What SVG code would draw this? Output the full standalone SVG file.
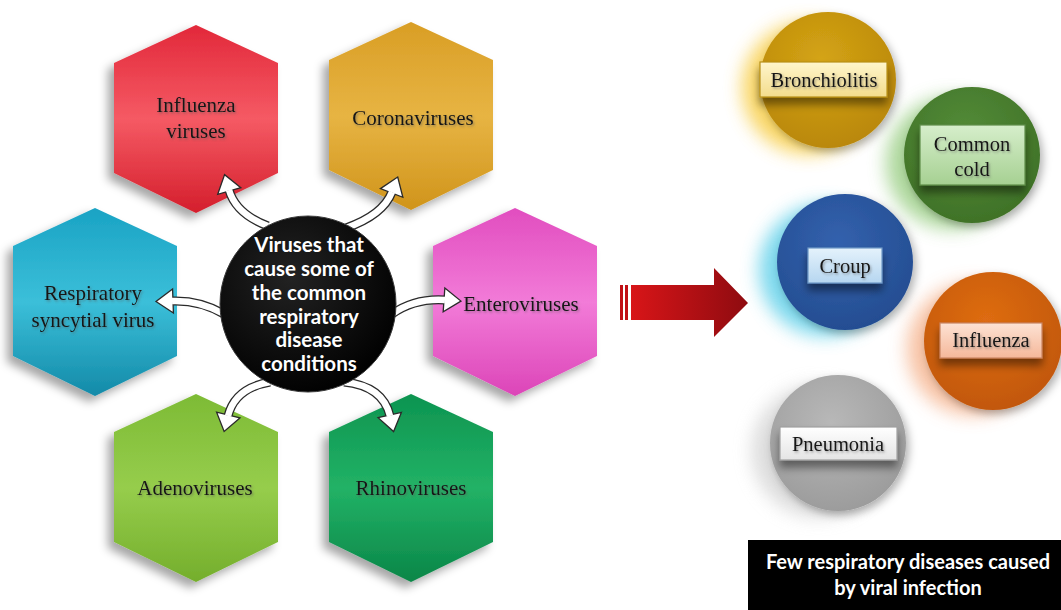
<svg xmlns="http://www.w3.org/2000/svg" width="1061" height="610" viewBox="0 0 1061 610">
  <defs>
    <style>
      .hexlabel { font-family: "Liberation Serif", "Times New Roman", serif; font-size: 21px; fill: #141414; text-anchor: middle; filter: url(#txtShadow); }
      .boxlabel { font-family: "Liberation Serif", "Times New Roman", serif; font-size: 20.5px; fill: #141414; text-anchor: middle; filter: url(#txtShadow); }
      .hubtext { font-family: Lato, "Open Sans", "Liberation Sans", sans-serif; font-weight: bold; font-size: 20.5px; fill: #ffffff; text-anchor: middle; }
      .captext { font-family: Lato, "Open Sans", "Liberation Sans", sans-serif; font-weight: bold; font-size: 20px; fill: #ffffff; text-anchor: middle; }
      .shaft-out { fill: none; stroke: #2a2a2a; stroke-width: 9; }
      .shaft-in { fill: none; stroke: #ffffff; stroke-width: 6.4; }
      .head { fill: #ffffff; stroke: #2a2a2a; stroke-width: 1.3; stroke-linejoin: miter; }
      .tag { stroke-width: 1.2; filter: url(#tagShadow); }
    </style>
    <filter id="hexShadow" x="-30%" y="-20%" width="150%" height="150%">
      <feDropShadow dx="-6" dy="6" stdDeviation="5" flood-color="#000" flood-opacity="0.35"/>
    </filter>
    <filter id="txtShadow" x="-10%" y="-20%" width="120%" height="150%">
      <feDropShadow dx="1.2" dy="1.5" stdDeviation="0.9" flood-color="#555" flood-opacity="0.55"/>
    </filter>
    <filter id="tagShadow" x="-20%" y="-30%" width="140%" height="190%">
      <feDropShadow dx="0" dy="7" stdDeviation="4" flood-color="#000" flood-opacity="0.45"/>
    </filter>
    <filter id="glow" x="-50%" y="-50%" width="200%" height="200%">
      <feGaussianBlur stdDeviation="9"/>
    </filter>
    <filter id="discShadow" x="-30%" y="-30%" width="160%" height="160%">
      <feDropShadow dx="3" dy="4" stdDeviation="4" flood-color="#000" flood-opacity="0.3"/>
    </filter>

    <!-- hexagon fills: lighter band across the middle -->
    <linearGradient id="gRed" x1="0" y1="0" x2="0" y2="1">
      <stop offset="0" stop-color="#e2283a"/><stop offset="0.5" stop-color="#f55a64"/><stop offset="1" stop-color="#d41e2c"/>
    </linearGradient>
    <linearGradient id="gGold" x1="0" y1="0" x2="0" y2="1">
      <stop offset="0" stop-color="#d99e25"/><stop offset="0.5" stop-color="#e7b443"/><stop offset="1" stop-color="#d0941b"/>
    </linearGradient>
    <linearGradient id="gCyan" x1="0" y1="0" x2="0" y2="1">
      <stop offset="0" stop-color="#1aa3c4"/><stop offset="0.5" stop-color="#3bbfd9"/><stop offset="1" stop-color="#138aa8"/>
    </linearGradient>
    <linearGradient id="gPink" x1="0" y1="0" x2="0" y2="1">
      <stop offset="0" stop-color="#e14dbf"/><stop offset="0.5" stop-color="#f27bd8"/><stop offset="1" stop-color="#dc45b8"/>
    </linearGradient>
    <linearGradient id="gLime" x1="0" y1="0" x2="0" y2="1">
      <stop offset="0" stop-color="#7dbb35"/><stop offset="0.5" stop-color="#96cd4c"/><stop offset="1" stop-color="#74ae2c"/>
    </linearGradient>
    <linearGradient id="gGreen" x1="0" y1="0" x2="0" y2="1">
      <stop offset="0" stop-color="#0d9450"/><stop offset="0.5" stop-color="#22b266"/><stop offset="1" stop-color="#0a8648"/>
    </linearGradient>
    <linearGradient id="gArrow" x1="0" y1="0" x2="1" y2="0">
      <stop offset="0" stop-color="#d81518"/><stop offset="1" stop-color="#8e0b10"/>
    </linearGradient>
    <radialGradient id="gHub" cx="0.4" cy="0.35" r="0.7">
      <stop offset="0" stop-color="#222"/><stop offset="1" stop-color="#000"/>
    </radialGradient>

    <!-- disc fills -->
    <radialGradient id="dGold" cx="0.45" cy="0.35" r="0.7">
      <stop offset="0" stop-color="#d4a414"/><stop offset="1" stop-color="#b8860b"/>
    </radialGradient>
    <radialGradient id="dGreen" cx="0.45" cy="0.35" r="0.7">
      <stop offset="0" stop-color="#548c38"/><stop offset="1" stop-color="#3e7026"/>
    </radialGradient>
    <radialGradient id="dBlue" cx="0.45" cy="0.35" r="0.7">
      <stop offset="0" stop-color="#3361ad"/><stop offset="1" stop-color="#234c90"/>
    </radialGradient>
    <radialGradient id="dOrange" cx="0.45" cy="0.35" r="0.7">
      <stop offset="0" stop-color="#de6c12"/><stop offset="1" stop-color="#c05608"/>
    </radialGradient>
    <radialGradient id="dGray" cx="0.45" cy="0.35" r="0.7">
      <stop offset="0" stop-color="#b8b8b8"/><stop offset="1" stop-color="#9a9a9a"/>
    </radialGradient>

    <!-- label plates -->
    <linearGradient id="tYellow" x1="0" y1="0" x2="0" y2="1">
      <stop offset="0" stop-color="#fff6cc"/><stop offset="1" stop-color="#f3dc8c"/>
    </linearGradient>
    <linearGradient id="tGreen" x1="0" y1="0" x2="0" y2="1">
      <stop offset="0" stop-color="#d6eecb"/><stop offset="1" stop-color="#a6d092"/>
    </linearGradient>
    <linearGradient id="tBlue" x1="0" y1="0" x2="0" y2="1">
      <stop offset="0" stop-color="#e4f2fc"/><stop offset="1" stop-color="#b6d6f0"/>
    </linearGradient>
    <linearGradient id="tPeach" x1="0" y1="0" x2="0" y2="1">
      <stop offset="0" stop-color="#fde2d4"/><stop offset="1" stop-color="#f5b89a"/>
    </linearGradient>
    <linearGradient id="tWhite" x1="0" y1="0" x2="0" y2="1">
      <stop offset="0" stop-color="#ffffff"/><stop offset="1" stop-color="#e4e4e4"/>
    </linearGradient>

    <path id="hex" d="M0,-94 L82,-56 L82,54 L0,94 L-82,54 L-82,-56 Z"/>
  </defs>

  <rect width="1061" height="610" fill="#ffffff"/>

  <!-- virus hexagons -->
  <g id="hex-influenza" transform="translate(196,119)">
    <use href="#hex" fill="url(#gRed)" filter="url(#hexShadow)"/>
    <text class="hexlabel" x="0" y="-7">Influenza</text>
    <text class="hexlabel" x="0" y="19">viruses</text>
  </g>
  <g id="hex-corona" transform="translate(411,116)">
    <use href="#hex" fill="url(#gGold)" filter="url(#hexShadow)"/>
    <text class="hexlabel" x="2" y="9">Coronaviruses</text>
  </g>
  <g id="hex-rsv" transform="translate(95,302)">
    <use href="#hex" fill="url(#gCyan)" filter="url(#hexShadow)"/>
    <text class="hexlabel" x="-2" y="-2">Respiratory</text>
    <text class="hexlabel" x="-2" y="25">syncytial virus</text>
  </g>
  <g id="hex-entero" transform="translate(515,302)">
    <use href="#hex" fill="url(#gPink)" filter="url(#hexShadow)"/>
    <text class="hexlabel" x="6" y="9">Enteroviruses</text>
  </g>
  <g id="hex-adeno" transform="translate(196,488)">
    <use href="#hex" fill="url(#gLime)" filter="url(#hexShadow)"/>
    <text class="hexlabel" x="-1" y="7">Adenoviruses</text>
  </g>
  <g id="hex-rhino" transform="translate(411,488)">
    <use href="#hex" fill="url(#gGreen)" filter="url(#hexShadow)"/>
    <text class="hexlabel" x="0" y="7">Rhinoviruses</text>
  </g>

  <!-- curved outline arrows from the hub -->
  <g id="connectors">
    <g>
      <path class="shaft-out" d="M268 226 Q236 214 229 190"/>
      <polygon class="head" transform="translate(229,190) rotate(-106)" points="-1,-12 16,0 -1,12"/>
      <path class="shaft-in" d="M268 226 Q236 214 229 190"/>
    </g>
    <g>
      <path class="shaft-out" d="M346 228 Q383 215 392 192"/>
      <polygon class="head" transform="translate(392,192) rotate(-69)" points="-1,-12 16,0 -1,12"/>
      <path class="shaft-in" d="M346 228 Q383 215 392 192"/>
    </g>
    <g>
      <path class="shaft-out" d="M224 314 Q200 300 172 301"/>
      <polygon class="head" transform="translate(172,301) rotate(178)" points="-1,-12 16,0 -1,12"/>
      <path class="shaft-in" d="M224 314 Q200 300 172 301"/>
    </g>
    <g>
      <path class="shaft-out" d="M392 314 Q415 298 445 300"/>
      <polygon class="head" transform="translate(445,300) rotate(4)" points="-1,-12 16,0 -1,12"/>
      <path class="shaft-in" d="M392 314 Q415 298 445 300"/>
    </g>
    <g>
      <path class="shaft-out" d="M270 382 Q235 388 228 416"/>
      <polygon class="head" transform="translate(228,416) rotate(104)" points="-1,-12 16,0 -1,12"/>
      <path class="shaft-in" d="M270 382 Q235 388 228 416"/>
    </g>
    <g>
      <path class="shaft-out" d="M344 382 Q383 386 390 416"/>
      <polygon class="head" transform="translate(390,416) rotate(77)" points="-1,-12 16,0 -1,12"/>
      <path class="shaft-in" d="M344 382 Q383 386 390 416"/>
    </g>
  </g>

  <!-- hub -->
  <g id="hub">
    <circle cx="308" cy="304" r="88" fill="url(#gHub)" stroke="#3a3a3a" stroke-width="1"/>
    <text class="hubtext" x="309" y="252">Viruses that</text>
    <text class="hubtext" x="309" y="276">cause some of</text>
    <text class="hubtext" x="309" y="300">the common</text>
    <text class="hubtext" x="309" y="324">respiratory</text>
    <text class="hubtext" x="309" y="347">disease</text>
    <text class="hubtext" x="309" y="371">conditions</text>
  </g>

  <!-- big arrow toward the disease list -->
  <g id="big-arrow">
    <rect x="620" y="285" width="3" height="35" fill="#c01016"/>
    <rect x="625" y="285" width="3" height="35" fill="#c01016"/>
    <polygon points="631,285 714,285 714,268 748,303 714,337 714,320 631,320" fill="url(#gArrow)"/>
  </g>

  <!-- disease discs -->
  <g id="disc-bronchiolitis">
    <circle cx="808" cy="88" r="66" fill="#f8cf4c" opacity="0.85" filter="url(#glow)"/>
    <circle cx="828" cy="80" r="68" fill="url(#dGold)" filter="url(#discShadow)"/>
    <rect class="tag" x="760" y="62" width="127" height="35" fill="url(#tYellow)" stroke="#b8901a"/>
    <text class="boxlabel" x="824" y="87">Bronchiolitis</text>
  </g>
  <g id="disc-common-cold">
    <circle cx="952" cy="163" r="66" fill="#9fd08a" opacity="0.85" filter="url(#glow)"/>
    <circle cx="972" cy="155" r="68" fill="url(#dGreen)" filter="url(#discShadow)"/>
    <rect class="tag" x="920" y="125" width="105" height="60" fill="url(#tGreen)" stroke="#5e8d48"/>
    <text class="boxlabel" x="972" y="151">Common</text>
    <text class="boxlabel" x="972" y="176">cold</text>
  </g>
  <g id="disc-croup">
    <circle cx="825" cy="270" r="66" fill="#66d2ea" opacity="0.85" filter="url(#glow)"/>
    <circle cx="845" cy="262" r="68" fill="url(#dBlue)" filter="url(#discShadow)"/>
    <rect class="tag" x="808" y="248" width="74" height="35" fill="url(#tBlue)" stroke="#6e98c6"/>
    <text class="boxlabel" x="845" y="273">Croup</text>
  </g>
  <g id="disc-influenza">
    <circle cx="973" cy="349" r="66" fill="#f6b894" opacity="0.85" filter="url(#glow)"/>
    <circle cx="993" cy="341" r="69" fill="url(#dOrange)" filter="url(#discShadow)"/>
    <rect class="tag" x="940" y="323" width="102" height="35" fill="url(#tPeach)" stroke="#c98462"/>
    <text class="boxlabel" x="991" y="347">Influenza</text>
  </g>
  <g id="disc-pneumonia">
    <circle cx="818" cy="451" r="66" fill="#d6d6d6" opacity="0.85" filter="url(#glow)"/>
    <circle cx="838" cy="443" r="68" fill="url(#dGray)" filter="url(#discShadow)"/>
    <rect class="tag" x="780" y="427" width="117" height="33" fill="url(#tWhite)" stroke="#a0a0a0"/>
    <text class="boxlabel" x="838" y="451">Pneumonia</text>
  </g>

  <!-- caption -->
  <g id="caption">
    <rect x="748" y="540" width="313" height="70" fill="#000000"/>
    <text class="captext" x="908" y="569">Few respiratory diseases caused</text>
    <text class="captext" x="908" y="595">by viral infection</text>
  </g>
</svg>
